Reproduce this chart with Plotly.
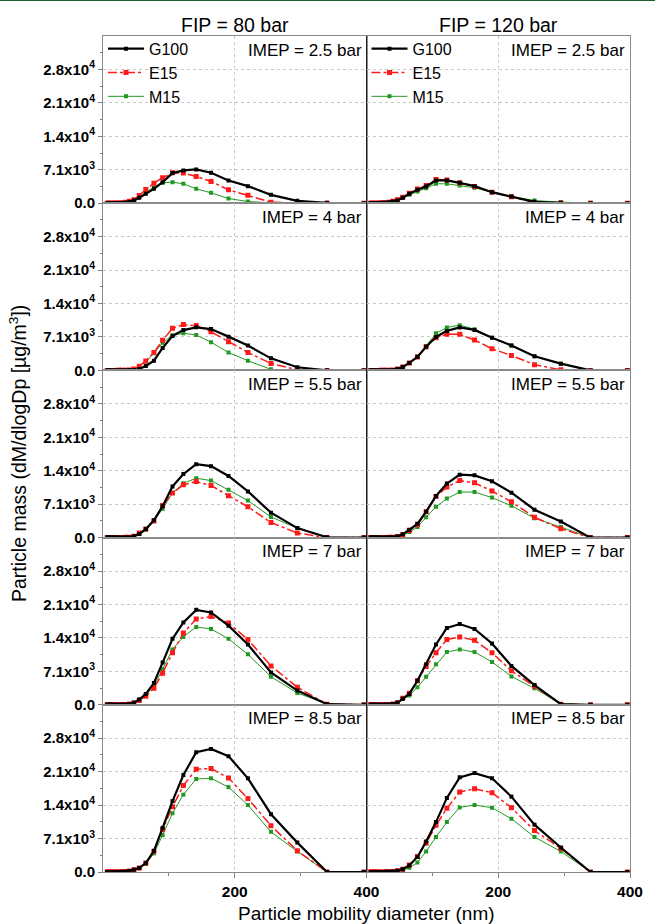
import plotly.graph_objects as go
from plotly.subplots import make_subplots

# Particle mobility diameter bins (nm)
diameters = [6.4, 7.4, 8.7, 10.1, 11.8, 13.7, 16.0, 18.6, 21.7, 25.3, 29.5, 34.3, 40.0, 47.0,
             55.0, 65.0, 77.3, 90.5, 105.5, 122.0, 141.5, 164.0, 190.5, 220.0, 255.0, 295.0, 340.0, 396.0]

# FIP = 80 bar, IMEP = 2.5 bar
g100_80_25 = [0, 0, 0, 0, 0, 0, 5, 10, 20, 30, 60, 130, 280, 570, 1140, 1990, 3050, 4470, 6390, 6960, 7170, 6460, 4830, 3620, 1780, 500, 70, 0]
e15_80_25 = [0, 0, 0, 0, 0, 5, 10, 20, 30, 50, 100, 200, 400, 710, 1630, 2910, 4260, 5400, 6460, 6390, 5680, 4620, 2840, 1700, 210, 20, 0, 0]
m15_80_25 = [0, 0, 0, 0, 5, 10, 20, 30, 50, 80, 120, 200, 330, 570, 1280, 2340, 3410, 4330, 4470, 4120, 3050, 2200, 990, 355, 70, 0, 0, 0]
# FIP = 120 bar, IMEP = 2.5 bar
g100_120_25 = [0, 0, 0, 0, 0, 5, 10, 20, 40, 70, 120, 210, 355, 570, 1140, 1990, 2840, 3550, 4830, 4830, 4330, 3620, 2340, 1400, 300, 70, 0, 0]
e15_120_25 = [0, 0, 0, 0, 0, 5, 10, 20, 40, 70, 120, 210, 400, 710, 1280, 2130, 3000, 3760, 5040, 4900, 4330, 3550, 2340, 1350, 140, 20, 0, 0]
m15_120_25 = [0, 0, 0, 0, 5, 10, 20, 30, 50, 90, 150, 280, 430, 710, 1140, 1780, 2490, 3200, 4120, 4120, 3760, 3270, 2340, 1420, 570, 210, 70, 0]

# IMEP = 4 bar
g100_80_4 = [0, 0, 0, 0, 0, 0, 0, 0, 5, 10, 20, 30, 60, 100, 300, 950, 2050, 4760, 7320, 8560, 9150, 8780, 7170, 5270, 2560, 660, 30, 0]
e15_80_4 = [0, 0, 0, 0, 0, 0, 0, 5, 10, 20, 30, 50, 100, 300, 900, 2000, 3800, 6400, 8930, 9730, 9510, 8200, 6080, 3810, 1460, 150, 0, 0]
m15_80_4 = [0, 0, 0, 0, 0, 0, 5, 10, 20, 30, 40, 60, 100, 300, 880, 1830, 3660, 5860, 7470, 7900, 7500, 6000, 3800, 2050, 220, 0, 0, 0]
g100_120_4 = [0, 0, 0, 0, 0, 0, 0, 5, 10, 20, 30, 50, 100, 290, 720, 1580, 2870, 5020, 7100, 8390, 9110, 8600, 6950, 5310, 3010, 1430, 0, 0]
e15_120_4 = [0, 0, 0, 0, 0, 0, 0, 5, 10, 20, 30, 50, 100, 290, 720, 1580, 2870, 5020, 6950, 7670, 7670, 6450, 4590, 3150, 1220, 140, 0, 0]
m15_120_4 = [0, 0, 0, 0, 0, 0, 5, 10, 20, 30, 40, 60, 100, 290, 600, 1580, 3010, 5160, 7890, 9110, 9610, 8750, 6950, 5310, 3010, 1430, 0, 0]

# IMEP = 5.5 bar
g100_80_55 = [0, 0, 0, 0, 0, 0, 0, 5, 10, 20, 30, 50, 100, 280, 770, 1810, 3690, 6680, 10860, 13500, 15590, 15170, 13080, 9810, 5290, 2020, 70, 0]
e15_80_55 = [0, 0, 0, 0, 0, 0, 0, 5, 10, 20, 30, 50, 100, 300, 970, 1810, 3550, 6820, 9460, 11210, 11900, 11070, 8910, 6540, 3200, 970, 0, 0]
m15_80_55 = [0, 0, 0, 0, 0, 0, 5, 10, 20, 30, 40, 60, 100, 280, 770, 1670, 3550, 6120, 9460, 11550, 12600, 12110, 10160, 7860, 4380, 2020, 70, 0]
g100_120_55 = [0, 0, 0, 0, 0, 0, 0, 5, 10, 20, 30, 50, 100, 250, 700, 1670, 2920, 5500, 8840, 11480, 13360, 13220, 11970, 9540, 5920, 3410, 0, 0]
e15_120_55 = [0, 0, 0, 0, 0, 0, 0, 5, 10, 20, 30, 50, 100, 250, 630, 1530, 2710, 5500, 8700, 10720, 12110, 11620, 9880, 7590, 4320, 1880, 0, 0]
m15_120_55 = [0, 0, 0, 0, 0, 0, 5, 10, 15, 20, 30, 50, 80, 200, 490, 1180, 2230, 4320, 6540, 8280, 9670, 9670, 8490, 6750, 4110, 2230, 0, 0]

# IMEP = 7 bar
g100_80_7 = [0, 0, 0, 0, 0, 0, 0, 5, 10, 20, 40, 70, 150, 420, 1120, 2310, 4620, 8960, 14000, 17500, 20160, 19600, 16800, 12810, 6860, 3010, 140, 0]
e15_80_7 = [0, 0, 0, 0, 0, 0, 0, 5, 10, 20, 40, 70, 150, 400, 910, 1820, 3500, 6720, 11060, 15260, 18200, 18760, 17360, 13860, 8260, 3710, 140, 0]
m15_80_7 = [0, 0, 0, 0, 0, 0, 5, 10, 20, 30, 50, 80, 150, 450, 1120, 2100, 3920, 7560, 11760, 14420, 16520, 16100, 14000, 10710, 5950, 2520, 140, 0]
g100_120_7 = [0, 0, 0, 0, 0, 0, 0, 5, 10, 20, 40, 70, 150, 420, 1260, 2310, 5110, 8610, 12810, 16310, 17150, 16100, 13020, 8260, 4200, 140, 0, 0]
e15_120_7 = [0, 0, 0, 0, 0, 0, 0, 5, 10, 20, 40, 70, 150, 420, 1400, 2450, 5110, 8120, 11060, 13860, 14420, 13720, 11060, 7210, 3920, 140, 0, 0]
m15_120_7 = [0, 0, 0, 0, 0, 0, 5, 10, 20, 30, 50, 80, 150, 560, 1260, 1960, 3710, 5950, 8610, 11200, 11760, 11200, 9100, 6020, 3500, 140, 0, 0]

# IMEP = 8.5 bar
g100_80_85 = [0, 0, 0, 0, 0, 0, 0, 5, 10, 20, 40, 80, 200, 500, 850, 1900, 4500, 9360, 15040, 20580, 25430, 26130, 24600, 19890, 12270, 6240, 0, 0]
e15_80_85 = [0, 0, 0, 0, 0, 0, 0, 5, 10, 20, 40, 80, 200, 450, 850, 1900, 4370, 9010, 13860, 18360, 21830, 21970, 19960, 15590, 9840, 4500, 0, 0]
m15_80_85 = [0, 0, 0, 0, 0, 0, 5, 10, 20, 30, 50, 80, 200, 450, 800, 1700, 3950, 7830, 12470, 16420, 19750, 19890, 18020, 14210, 8520, 4370, 0, 0]
g100_120_85 = [0, 0, 0, 0, 0, 0, 0, 5, 10, 20, 30, 50, 100, 250, 600, 1400, 3200, 6450, 10600, 15730, 20100, 21000, 19890, 16000, 10050, 5200, 0, 0]
e15_120_85 = [0, 0, 0, 0, 0, 0, 0, 5, 10, 20, 30, 50, 100, 250, 600, 1500, 3300, 6100, 9910, 13510, 16980, 17670, 16840, 13650, 8800, 5000, 0, 0]
m15_120_85 = [0, 0, 0, 0, 0, 0, 5, 10, 15, 20, 30, 40, 60, 150, 400, 900, 2000, 4370, 7420, 10600, 13720, 14210, 13650, 11300, 7420, 4370, 0, 0]

fip_labels = ["FIP = 80 bar", "FIP = 120 bar"]
imep_labels = ["IMEP = 2.5 bar", "IMEP = 4 bar", "IMEP = 5.5 bar", "IMEP = 7 bar", "IMEP = 8.5 bar"]
fuel_names = ["G100", "E15", "M15"]
y_tickvals = [0, 7100, 14200, 21300, 28400]
y_ticktext = ["0.0", "7.1x10<sup>3</sup>", "1.4x10<sup>4</sup>", "2.1x10<sup>4</sup>", "2.8x10<sup>4</sup>"]
x_tickvals = [200, 400]
x_ticktext = ["200", "400"]

panels = [
    [(g100_80_25, e15_80_25, m15_80_25), (g100_120_25, e15_120_25, m15_120_25)],
    [(g100_80_4, e15_80_4, m15_80_4), (g100_120_4, e15_120_4, m15_120_4)],
    [(g100_80_55, e15_80_55, m15_80_55), (g100_120_55, e15_120_55, m15_120_55)],
    [(g100_80_7, e15_80_7, m15_80_7), (g100_120_7, e15_120_7, m15_120_7)],
    [(g100_80_85, e15_80_85, m15_80_85), (g100_120_85, e15_120_85, m15_120_85)],
]

FONT = "Liberation Sans, Arial, sans-serif"
styles = [
    dict(line=dict(color="#000000", width=2.2, dash="solid"),
         marker=dict(symbol="square", size=4, color="#000000")),
    dict(line=dict(color="#ff1a1a", width=1.5, dash="dashdot"),
         marker=dict(symbol="square", size=5, color="#ff1a1a")),
    dict(line=dict(color="#229922", width=1.0, dash="solid"),
         marker=dict(symbol="square", size=4, color="#1f9a1f")),
]

fig = make_subplots(rows=5, cols=2, horizontal_spacing=0, vertical_spacing=0)

for r in range(5):
    for c in range(2):
        series = panels[r][c]
        # draw M15 first, then E15, then G100 on top
        for k in [2, 1, 0]:
            show = (r == 0)
            fig.add_trace(go.Scatter(
                x=diameters, y=series[k], mode="lines+markers", name=fuel_names[k],
                line=styles[k]["line"], marker=styles[k]["marker"],
                showlegend=show, legend="legend" if c == 0 else "legend2",
                legendrank=k + 1,
            ), row=r + 1, col=c + 1)

for r in range(5):
    for c in range(2):
        bottom = (r == 4)
        fig.update_xaxes(
            range=[0, 400], tickvals=x_tickvals, ticktext=["<b>%s</b>" % t for t in x_ticktext],
            showticklabels=bottom, ticks="outside" if bottom else "", ticklen=5,
            tickcolor="#808080",
            minor=dict(tickvals=[100, 300], ticks="outside" if bottom else "", ticklen=3,
                       tickcolor="#808080", showgrid=False),
            showgrid=True, gridcolor="#c8c8c8", griddash="dot", gridwidth=1,
            showline=True, linecolor="#8a8a8a", linewidth=1, mirror=True,
            zeroline=False, tickfont=dict(family=FONT, size=15.5, color="#000"),
            row=r + 1, col=c + 1)
        fig.update_yaxes(
            range=[0, 35500], tickvals=y_tickvals,
            ticktext=["<b>%s</b>" % t for t in y_ticktext],
            showticklabels=(c == 0), ticks="outside" if c == 0 else "", ticklen=4,
            tickcolor="#808080",
            minor=dict(tickvals=[3550, 10650, 17750, 24850, 31950],
                       ticks="outside" if c == 0 else "", ticklen=2,
                       tickcolor="#808080", showgrid=False),
            showgrid=True, gridcolor="#c8c8c8", griddash="dot", gridwidth=1,
            showline=True, linecolor="#8a8a8a", linewidth=1, mirror=True,
            zeroline=False, tickfont=dict(family=FONT, size=15, color="#000"),
            row=r + 1, col=c + 1)

annotations = []
for r in range(5):
    for c in range(2):
        idx = r * 2 + c + 1
        ax = "" if idx == 1 else str(idx)
        annotations.append(dict(
            text=imep_labels[r], xref="x%s domain" % ax, yref="y%s domain" % ax,
            x=0.99, y=0.985, xanchor="right", yanchor="top", showarrow=False,
            font=dict(family=FONT, size=17, color="#000")))

for c in range(2):
    annotations.append(dict(
        text=fip_labels[c], xref="paper", yref="paper", x=0.25 + 0.5 * c, y=1.0,
        yshift=11, xanchor="center", yanchor="middle", showarrow=False,
        font=dict(family=FONT, size=19.5, color="#000")))

annotations.append(dict(
    text="Particle mobility diameter (nm)", xref="paper", yref="paper", x=0.5, y=0,
    yshift=-41, xanchor="center", yanchor="middle", showarrow=False,
    font=dict(family=FONT, size=19, color="#000")))
annotations.append(dict(
    text="Particle mass (dM/dlogDp [µg/m<sup>3</sup>])", xref="paper", yref="paper",
    x=0, xshift=-85, y=0.5, xanchor="center", yanchor="middle", textangle=-90,
    showarrow=False, font=dict(family=FONT, size=19.5, color="#000")))

legend_style = dict(font=dict(family=FONT, size=16, color="#000"), bgcolor="rgba(0,0,0,0)",
                    borderwidth=0, tracegroupgap=0, itemwidth=36, yanchor="top", xanchor="left",
                    traceorder="normal")

fig.update_layout(
    width=655, height=924,
    margin=dict(l=103, r=19, t=36, b=52),
    paper_bgcolor="white", plot_bgcolor="white",
    annotations=annotations,
    legend=dict(x=0.0, y=1.005, **legend_style),
    legend2=dict(x=0.5, y=1.005, **legend_style),
    shapes=[
        dict(type="line", xref="paper", yref="paper", x0=0.5, x1=0.5, y0=0, y1=1,
             line=dict(color="#202020", width=1)),
        dict(type="line", xref="paper", yref="paper", x0=-0.2, x1=1.05, y0=1.043, y1=1.043,
             line=dict(color="#1f5f2f", width=2)),
    ],
)

fig.write_html("out.html")
